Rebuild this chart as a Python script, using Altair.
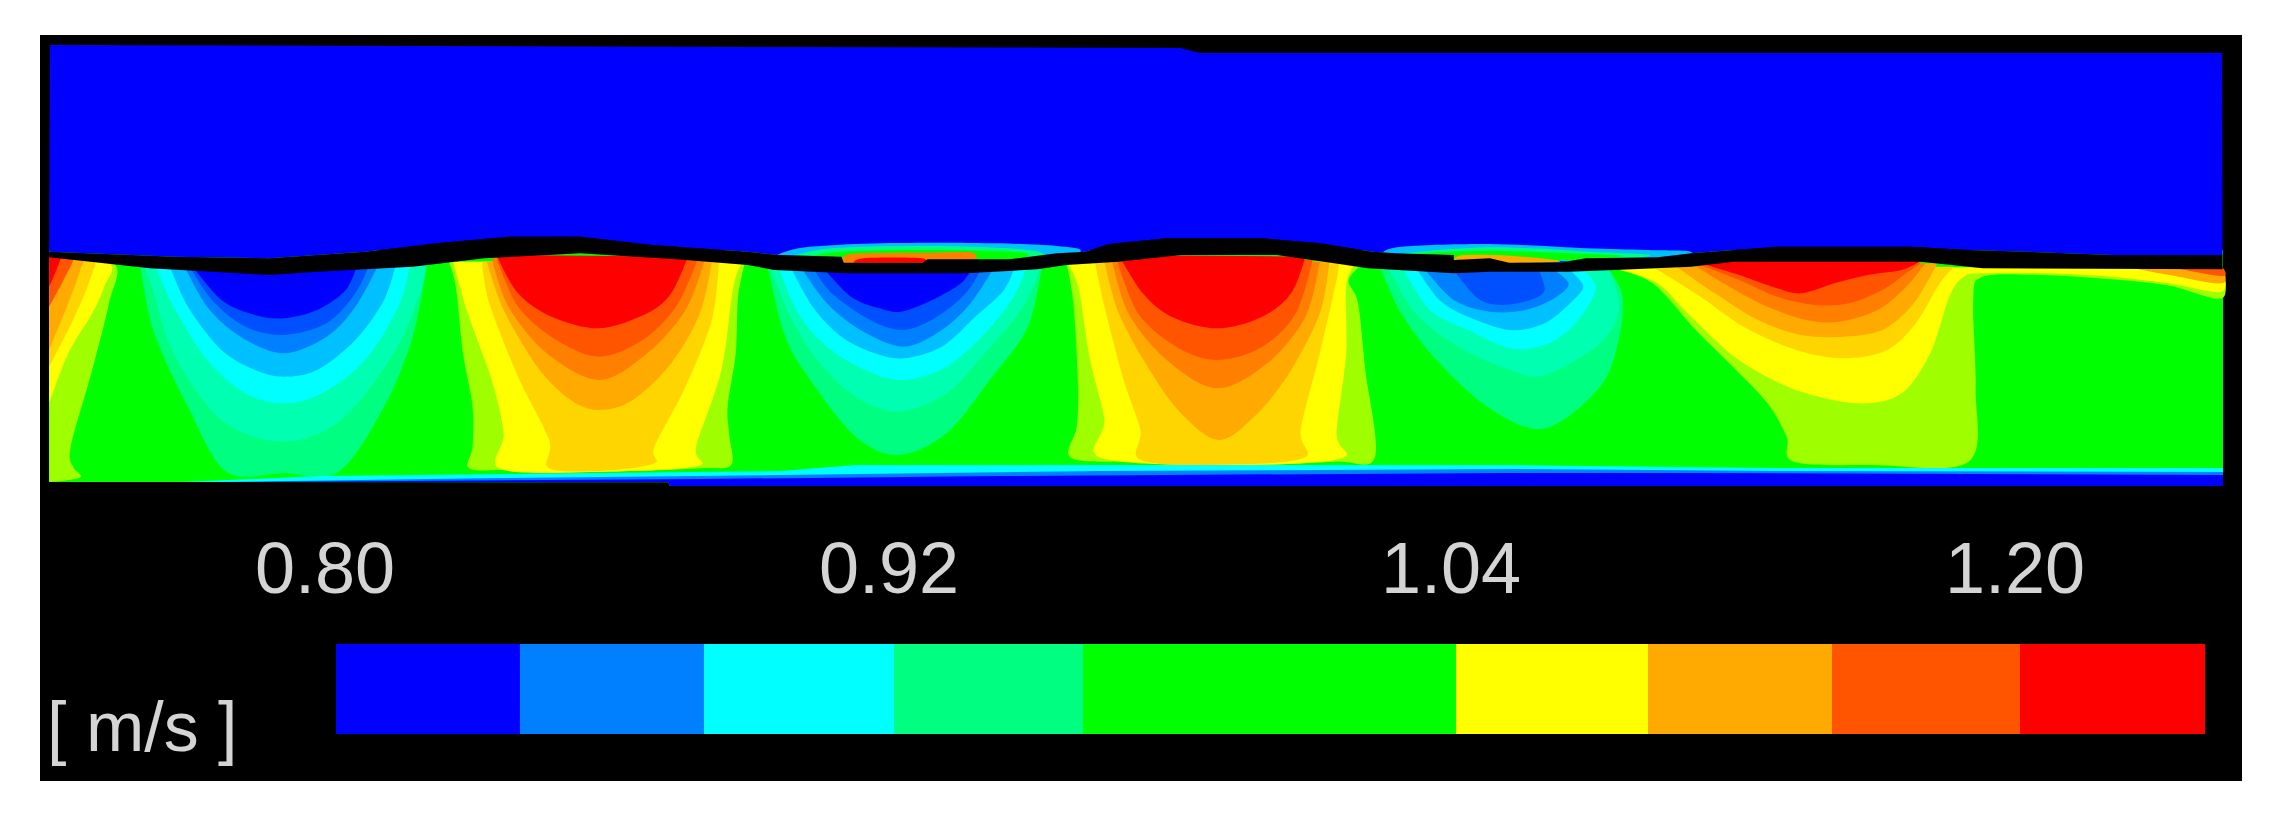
import altair as alt
import pandas as pd

SX, SY, Y0 = 2.09, 3.0, 220
P1, P2, P3 = 30, 760, 1490

GREEN = "#00ff00"; LIME = "#9fff00"; YEL = "#ffff00"; GOLD = "#ffd500"; ORA = "#ffaa00"
DORA = "#ff8000"; RORA = "#ff5500"; RED = "#ff0000"
SPR = "#00ff80"; AQUA = "#00ffb0"; CYAN = "#00ffff"; SKY = "#00c0ff"; AZ = "#0080ff"; AZ2 = "#0050ff"; BLUE = "#0000ff"

frame_x = [40, 2242]; frame_y = [35, 781]
top_edge = [(50, 45), (1180, 48), (1200, 53), (2222, 53)]
channel = [(49, 250), (2223, 250), (2223, 483), (49, 482)]

bar_edges = [336, 520, 704, 894, 1083, 1456, 1648, 1832, 2020, 2205]
bar_colors = [BLUE, AZ, CYAN, SPR, GREEN, YEL, ORA, RORA, RED]
bar_y = [644, 734]

tick_labels = ["0.80", "0.92", "1.04", "1.20"]
tick_x = [325, 889, 1451, 2015]
tick_base = 593
unit_label = "[ m/s ]"; unit_x = 47; unit_base = 751

left_edge = [
    (LIME, [(40, 100), (175, 130), (165, 250), (130, 450), (85, 680), (90, 740), (107, 770), (70, 782), (40, 785)]),
    (YEL, [(40, 100), (165, 130), (155, 200), (130, 280), (80, 400), (40, 550)]),
    (GOLD, [(40, 100), (130, 115), (125, 180), (90, 300), (40, 440)]),
    (ORA, [(40, 100), (110, 108), (105, 150), (80, 250), (40, 390)]),
    (RORA, [(40, 100), (90, 108), (70, 180), (40, 260)]),
    (RED, [(40, 100), (65, 104), (55, 150), (40, 200)]),
]
lobe1 = [
    (SPR, [(230, 130), (240, 220), (262, 350), (330, 560), (410, 755), (530, 760), (645, 755), (740, 560), (800, 350), (830, 130)]),
    (AQUA, [(235, 130), (255, 200), (300, 400), (400, 600), (530, 665), (650, 600), (760, 400), (820, 200), (825, 130)]),
    (CYAN, [(260, 130), (300, 260), (370, 420), (450, 520), (530, 550), (610, 520), (700, 420), (770, 260), (795, 130)]),
    (SKY, [(290, 130), (330, 260), (400, 390), (470, 450), (530, 470), (600, 450), (680, 360), (740, 240), (765, 130)]),
    (AZ, [(320, 130), (370, 260), (440, 350), (530, 400), (620, 350), (680, 260), (730, 130)]),
    (AZ2, [(330, 130), (380, 240), (450, 320), (530, 345), (620, 310), (680, 220), (710, 130)]),
    (BLUE, [(335, 130), (400, 240), (470, 285), (530, 295), (600, 270), (660, 210), (685, 130)]),
]
lobe2 = [
    (LIME, [(875, 125), (890, 200), (905, 400), (925, 560), (925, 680), (918, 745), (1000, 750), (1200, 755), (1400, 745), (1465, 735), (1462, 650), (1458, 560), (1475, 400), (1480, 230), (1495, 125)]),
    (YEL, [(885, 125), (915, 280), (965, 480), (990, 640), (985, 748), (1200, 755), (1395, 738), (1392, 680), (1445, 450), (1470, 200), (1490, 125)]),
    (GOLD, [(945, 125), (960, 250), (1020, 470), (1085, 660), (1085, 745), (1200, 752), (1305, 730), (1305, 680), (1370, 500), (1425, 300), (1440, 125)]),
    (ORA, [(955, 125), (990, 270), (1060, 440), (1130, 540), (1190, 570), (1260, 540), (1340, 430), (1400, 280), (1425, 125)]),
    (DORA, [(965, 115), (1000, 260), (1080, 400), (1190, 480), (1290, 400), (1370, 270), (1410, 120)]),
    (RORA, [(975, 115), (1020, 260), (1100, 360), (1190, 410), (1280, 360), (1350, 260), (1395, 120)]),
    (RED, [(975, 105), (1020, 220), (1090, 290), (1190, 325), (1290, 280), (1340, 220), (1375, 110)]),
]
lobe3 = [
    (SPR, [(15, 130), (50, 340), (100, 470), (200, 650), (290, 705), (390, 640), (480, 480), (560, 320), (590, 130)]),
    (AQUA, [(20, 130), (60, 280), (120, 420), (200, 530), (290, 575), (390, 520), (470, 400), (550, 260), (590, 130)]),
    (CYAN, [(35, 130), (80, 280), (140, 380), (220, 450), (300, 480), (390, 440), (470, 340), (530, 230), (560, 130)]),
    (SKY, [(60, 130), (110, 260), (170, 350), (240, 400), (300, 415), (380, 380), (450, 290), (510, 210), (535, 130)]),
    (AZ, [(85, 140), (140, 250), (210, 330), (300, 380), (380, 330), (440, 250), (490, 140)]),
    (AZ2, [(110, 140), (150, 220), (230, 300), (300, 330), (370, 290), (430, 220), (465, 140)]),
    (BLUE, [(130, 140), (190, 230), (250, 265), (295, 275), (360, 240), (420, 190), (445, 140)]),
]
lobe4 = [
    (LIME, [(640, 125), (655, 250), (665, 500), (662, 620), (652, 715), (800, 725), (1000, 735), (1200, 725), (1285, 712), (1265, 450), (1250, 250), (1230, 180), (1265, 125)]),
    (YEL, [(640, 125), (665, 200), (690, 420), (720, 600), (715, 715), (1000, 735), (1215, 715), (1205, 640), (1225, 400), (1225, 200), (1245, 125)]),
    (GOLD, [(700, 125), (720, 260), (760, 480), (795, 630), (795, 720), (950, 735), (1135, 715), (1130, 630), (1170, 400), (1205, 180), (1210, 125)]),
    (ORA, [(720, 125), (750, 280), (810, 440), (880, 580), (960, 660), (1040, 580), (1110, 450), (1170, 280), (1190, 125)]),
    (DORA, [(735, 115), (770, 280), (850, 420), (955, 505), (1060, 430), (1140, 290), (1170, 125)]),
    (RORA, [(745, 115), (790, 280), (870, 380), (955, 420), (1050, 380), (1120, 280), (1155, 120)]),
    (RED, [(750, 105), (800, 220), (860, 290), (955, 325), (1050, 290), (1110, 220), (1140, 110)]),
]
lobe5 = [
    (SPR, [(1295, 135), (1340, 280), (1420, 430), (1530, 570), (1641, 625), (1756, 500), (1796, 350), (1801, 220), (1766, 135)]),
    (AQUA, [(1310, 135), (1370, 280), (1460, 380), (1568, 450), (1641, 465), (1756, 370), (1796, 260), (1770, 135)]),
    (CYAN, [(1340, 135), (1400, 270), (1480, 330), (1568, 385), (1640, 375), (1690, 330), (1730, 260), (1746, 195), (1710, 135)]),
    (SKY, [(1370, 140), (1420, 240), (1480, 290), (1568, 330), (1640, 310), (1700, 240), (1720, 195), (1685, 140)]),
    (AZ, [(1385, 140), (1450, 240), (1526, 275), (1600, 270), (1660, 235), (1690, 190), (1650, 140)]),
    (AZ2, [(1445, 140), (1500, 235), (1550, 255), (1610, 240), (1640, 210), (1625, 140)]),
]
lobe6 = [
    (LIME, [(255, 145), (340, 190), (430, 330), (500, 430), (580, 550), (620, 650), (635, 725), (800, 735), (1000, 725), (1015, 500), (1010, 240), (1030, 170), (1150, 165), (1300, 178), (1420, 197), (1530, 235), (1530, 140)]),
    (YEL, [(260, 145), (350, 190), (420, 290), (520, 420), (640, 510), (770, 550), (860, 520), (920, 400), (960, 230), (990, 170), (1030, 160), (1160, 160), (1300, 170), (1420, 190), (1530, 215), (1530, 140)]),
    (GOLD, [(340, 140), (440, 230), (530, 320), (640, 390), (740, 415), (830, 390), (890, 310), (940, 190), (970, 140)]),
    (ORA, [(390, 140), (470, 220), (560, 300), (650, 345), (740, 350), (820, 330), (880, 260), (920, 170), (935, 130)]),
    (DORA, [(420, 130), (500, 200), (580, 260), (660, 300), (730, 305), (810, 270), (870, 200), (910, 130)]),
    (RORA, [(430, 130), (520, 180), (600, 230), (680, 255), (750, 250), (820, 210), (870, 160), (900, 130)]),
    (RED, [(430, 125), (510, 160), (590, 200), (650, 220), (720, 190), (790, 165), (860, 150), (905, 120)]),
    (ORA, [(1330, 140), (1420, 165), (1530, 190), (1530, 140)]),
    (RORA, [(1420, 140), (1530, 168), (1530, 140)]),
]
lens1 = [
    (SKY, [(20, 115), (80, 85), (200, 72), (350, 68), (500, 70), (620, 78), (670, 92), (600, 125), (50, 125)]),
    (SPR, [(60, 112), (150, 85), (350, 78), (520, 85), (590, 100), (560, 125), (100, 125)]),
    (GREEN, [(90, 115), (170, 95), (350, 90), (520, 95), (560, 105), (520, 125), (130, 125)]),
    (DORA, [(175, 130), (190, 102), (350, 98), (440, 97), (445, 118), (350, 132)]),
    (RED, [(195, 128), (220, 114), (335, 114), (345, 128)]),
]
lens2 = [
    (SKY, [(1300, 100), (1340, 80), (1526, 72), (1726, 85), (1850, 90), (1945, 95), (1880, 120), (1350, 125)]),
    (SPR, [(1345, 100), (1526, 82), (1730, 95), (1860, 105), (1760, 120), (1400, 120)]),
    (GREEN, [(1370, 100), (1526, 92), (1730, 102), (1800, 110), (1600, 125), (1420, 120)]),
    (ORA, [(1450, 120), (1470, 105), (1566, 107), (1670, 125), (1450, 130)]),
]
stripe_cyan = [(183, 482), (320, 476), (780, 471), (856, 465), (1095, 465), (1510, 465), (1586, 466), (1777, 468), (2223, 468), (2223, 486), (670, 486), (668, 482)]
stripe_az = [(220, 482), (500, 478), (780, 475), (1100, 471), (1510, 469), (1780, 471), (2223, 472), (2223, 486), (670, 486), (668, 482)]
stripe_blue = [(250, 482), (700, 479), (1000, 476), (1500, 473), (1700, 473), (2223, 475), (2223, 486), (670, 486), (668, 482)]

wall_top_p1 = [(40, 95), (300, 110), (500, 115), (700, 95), (850, 70), (1000, 50), (1150, 50), (1300, 75), (1500, 95)]
wall_top_p2 = [(30, 104), (170, 110), (175, 128), (340, 128), (350, 118), (520, 118), (620, 100), (680, 95), (730, 72), (850, 55), (1050, 55), (1170, 70), (1280, 95), (1330, 100), (1450, 105), (1450, 120)]
wall_top_p3 = [(0, 115), (40, 128), (145, 128), (200, 115), (350, 112), (420, 100), (510, 90), (600, 80), (880, 80), (1000, 90), (1120, 95), (1300, 105), (1531, 105)]
wall_bot_p3 = [(1531, 148), (1030, 145), (900, 125), (510, 125), (420, 140), (260, 150), (165, 155), (0, 155)]
wall_bot_p2 = [(1450, 160), (1270, 145), (1200, 130), (1080, 105), (880, 105), (750, 125), (640, 135), (580, 148), (430, 160), (180, 160), (30, 150)]
wall_bot_p1 = [(1500, 135), (1350, 118), (1150, 100), (950, 115), (800, 140), (600, 155), (500, 165), (250, 145), (40, 112)]


def px(off, points):
    return [(off + a / SX, Y0 + b / SY) for a, b in points]


seq = [0]


def put(rows, color, pts):
    seq[0] += 1
    for i, (a, b) in enumerate(pts):
        rows.append({"band": seq[0], "ord": i, "x": a, "y": b, "c": color})


wall_upper = px(P1, wall_top_p1) + px(P2, wall_top_p2) + px(P3, wall_top_p3)
wall_lower = px(P3, wall_bot_p3) + px(P2, wall_bot_p2) + px(P1, wall_bot_p1)

base_rows, lobe_rows, stripe_rows, fluid_rows, lens_rows, wall_rows = [], [], [], [], [], []
put(base_rows, GREEN, channel)
for group, off in [(left_edge, P1), (lobe1, P1), (lobe2, P1), (lobe3, P2), (lobe4, P2), (lobe5, P2), (lobe6, P3)]:
    for col, pts in group:
        put(lobe_rows, col, px(off, pts))
for col, pts in [(CYAN, stripe_cyan), (AZ, stripe_az), (BLUE, stripe_blue)]:
    put(stripe_rows, col, pts)
put(fluid_rows, BLUE, top_edge + list(reversed(wall_upper)))
for col, pts in lens1 + lens2:
    put(lens_rows, col, px(P2, pts))
put(wall_rows, "#000000", wall_upper + wall_lower)

xs = alt.Scale(domain=[8, 2266], nice=False, zero=False)
ys = alt.Scale(domain=[813, 8], nice=False, zero=False)
X = alt.X("x:Q", scale=xs, axis=None)
Y = alt.Y("y:Q", scale=ys, axis=None)

frame = alt.Chart(pd.DataFrame({"x": [frame_x[0]], "x2": [frame_x[1]], "y": [frame_y[0]], "y2": [frame_y[1]]})).mark_rect(color="#000000").encode(
    x=X, x2="x2:Q", y=Y, y2="y2:Q")


def poly_chart(rows, **mark):
    return alt.Chart(pd.DataFrame(rows)).mark_line(filled=True, strokeWidth=0, **mark).encode(
        x=X, y=Y, order="ord:Q", detail="band:N", color=alt.Color("c:N", scale=None))


bar = alt.Chart(pd.DataFrame({"x": bar_edges[:-1], "x2": bar_edges[1:], "c": bar_colors, "y": bar_y[0], "y2": bar_y[1]})).mark_rect().encode(
    x=X, x2="x2:Q", y=Y, y2="y2:Q", color=alt.Color("c:N", scale=None))

ticks = alt.Chart(pd.DataFrame({"x": tick_x, "y": tick_base, "t": tick_labels})).mark_text(
    font="Liberation Sans", fontSize=72, color="#d4d4d4", align="center", baseline="alphabetic").encode(x=X, y=Y, text="t:N")
unit = alt.Chart(pd.DataFrame({"x": [unit_x], "y": [unit_base], "t": [unit_label]})).mark_text(
    font="Liberation Sans", fontSize=70, color="#d4d4d4", align="left", baseline="alphabetic").encode(x=X, y=Y, text="t:N")

chart = alt.layer(
    frame,
    poly_chart(base_rows, interpolate="linear"),
    poly_chart(lobe_rows, interpolate="cardinal", tension=0.05),
    poly_chart(stripe_rows, interpolate="linear"),
    poly_chart(fluid_rows, interpolate="linear"),
    poly_chart(lens_rows, interpolate="cardinal", tension=0.05),
    poly_chart(wall_rows, interpolate="linear"),
    bar, ticks, unit,
).properties(
    width=2258, height=805, padding=0, background="#ffffff",
    autosize=alt.AutoSizeParams(type="none")
).configure_view(stroke=None)

chart.save("out.html", embed_options={"renderer": "svg", "actions": False})
